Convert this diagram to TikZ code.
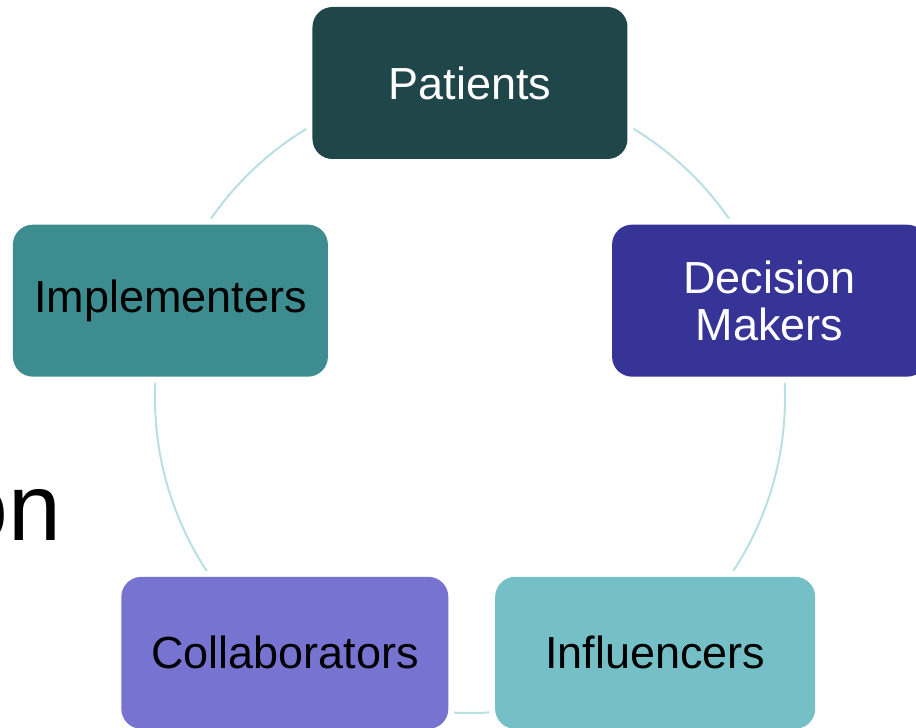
\documentclass[tikz,border=0pt]{standalone}
\usepackage{fontspec}
\setmainfont{Liberation Sans}
\usetikzlibrary{backgrounds}
\definecolor{patcol}{HTML}{1F474A}
\definecolor{deccol}{HTML}{373497}
\definecolor{impcol}{HTML}{3D8C90}
\definecolor{colcol}{HTML}{7773D0}
\definecolor{infcol}{HTML}{74C0C6}
\definecolor{ringcol}{HTML}{B8E0E3}
\tikzset{
  stage/.style={rounded corners=0.4cm, minimum width=6.3cm, minimum height=3.04cm,
    align=center, inner sep=0pt, font=\fontsize{25.6}{26.7}\selectfont,
    preaction={draw=white, line width=0.24cm}},
  ring/.style={draw=ringcol, line width=0.04cm}
}
\begin{document}
\begin{tikzpicture}
    \useasboundingbox (-9.4,-6.58) rectangle (8.92,7.96);
    % the five groups round the ring
    \node[stage, fill=patcol, text=white] (pat) at (90:6.3) {Patients};
    \node[stage, fill=deccol, text=white] (dec) at (18:6.3) {Decision\\Makers};
    \node[stage, fill=infcol, minimum width=6.4cm] (inf) at (-54:6.3) {Influencers};
    \node[stage, fill=colcol, minimum width=6.54cm] (col) at (-126:6.3) {Collaborators};
    \node[stage, fill=impcol] (imp) at (162:6.3) {Implementers};
    \node[anchor=base east, inner sep=0pt, font=\fontsize{54}{60}\selectfont] (word) at (-8.17,-2.84) {on};
    \begin{scope}[on background layer]
        \foreach \a/\n in {90/pat, 18/dec, -54/inf, -126/col, 162/imp}
            \draw[ring] (\n.center) arc[start angle=\a, delta angle=-72, radius=6.3];
    \end{scope}
\end{tikzpicture}
\end{document}
